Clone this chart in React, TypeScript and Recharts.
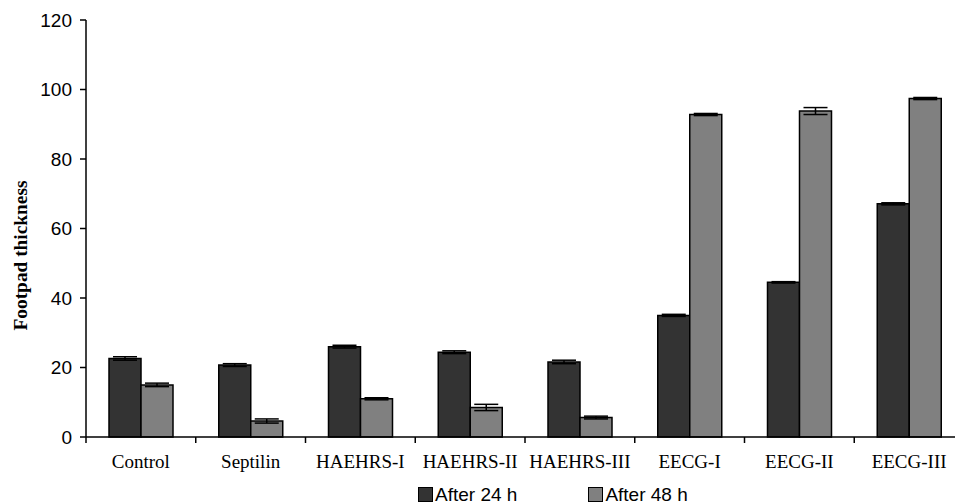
import { BarChart, Bar, XAxis, YAxis, ErrorBar } from "recharts";

const groups = [
  "Control",
  "Septilin",
  "HAEHRS-I",
  "HAEHRS-II",
  "HAEHRS-III",
  "EECG-I",
  "EECG-II",
  "EECG-III",
];
const after24 = [22.6, 20.7, 26.0, 24.4, 21.6, 35.0, 44.5, 67.1];
const after24Err = [0.5, 0.4, 0.4, 0.4, 0.5, 0.3, 0.2, 0.3];
const after48 = [15.0, 4.6, 11.0, 8.5, 5.6, 92.8, 93.8, 97.4];
const after48Err = [0.5, 0.6, 0.3, 0.9, 0.4, 0.3, 1.0, 0.3];
const yTicks = [0, 20, 40, 60, 80, 100, 120];

const seriesNames = ["After 24 h", "After 48 h"];
const seriesColors = ["#333333", "#808080"];

const data = groups.map((g, i) => ({
  name: g,
  a24: after24[i],
  a24e: after24Err[i],
  a48: after48[i],
  a48e: after48Err[i],
}));

const CHART_W = 969;
const CHART_H = 504;
const Y_AXIS_W = 86;
const MARGIN_R = 5;
const BAND = (CHART_W - Y_AXIS_W - MARGIN_R) / groups.length;

function CategoryTick(props: any) {
  const { x, y, payload } = props;
  const left = x - BAND / 2;
  return (
    <g>
      <line x1={left} x2={left} y1={y - 6} y2={y} stroke="#000" strokeWidth={1.5} />
      <text
        x={x}
        y={y}
        dy={25}
        textAnchor="middle"
        fontFamily="'Liberation Serif', 'Times New Roman', serif"
        fontSize={19}
        fill="#000"
      >
        {payload.value}
      </text>
    </g>
  );
}

function YLabel(props: any) {
  const vb = props.viewBox;
  const cx = 20;
  const cy = vb.y + vb.height / 2 + 27;
  return (
    <text
      x={cx}
      y={cy}
      transform={`rotate(-90 ${cx} ${cy})`}
      textAnchor="middle"
      dominantBaseline="central"
      fontFamily="'Liberation Serif', 'Times New Roman', serif"
      fontWeight="bold"
      fontSize={19}
      textLength={150}
      lengthAdjust="spacingAndGlyphs"
      fill="#000"
    >
      Footpad thickness
    </text>
  );
}

export default function App() {
  return (
    <div
      style={{
        position: "fixed",
        left: 0,
        top: 0,
        width: 955,
        height: 504,
        overflow: "hidden",
        background: "#fff",
      }}
    >
      <BarChart
        width={CHART_W}
        height={CHART_H}
        data={data}
        margin={{ top: 20, right: MARGIN_R, bottom: 27, left: 0 }}
        barCategoryGap={23}
        barGap={0}
      >
        <XAxis
          dataKey="name"
          interval={0}
          height={40}
          stroke="#000"
          strokeWidth={1.5}
          tickLine={{ stroke: "none" }}
          tickSize={6}
          tickMargin={0}
          tick={<CategoryTick />}
        />
        <YAxis
          width={Y_AXIS_W}
          domain={[0, 120]}
          ticks={yTicks}
          interval={0}
          stroke="#000"
          strokeWidth={1.5}
          tickSize={6}
          tickMargin={8}
          tick={{
            fill: "#000",
            fontSize: 19,
            fontFamily: "'Liberation Sans', Arial, sans-serif",
          }}
          label={<YLabel />}
        />
        <Bar
          dataKey="a24"
          fill={seriesColors[0]}
          stroke="#000"
          strokeWidth={1.5}
          isAnimationActive={false}
        >
          <ErrorBar dataKey="a24e" width={12} stroke="#000" strokeWidth={1.5} />
        </Bar>
        <Bar
          dataKey="a48"
          fill={seriesColors[1]}
          stroke="#000"
          strokeWidth={1.5}
          isAnimationActive={false}
        >
          <ErrorBar dataKey="a48e" width={12} stroke="#000" strokeWidth={1.5} />
        </Bar>
      </BarChart>
      <div
        style={{
          position: "absolute",
          left: 418,
          top: 485,
          display: "flex",
          gap: 71,
          fontFamily: "'Liberation Sans', Arial, sans-serif",
          fontSize: 19,
          lineHeight: "19px",
          color: "#000",
        }}
      >
        {seriesNames.map((n, i) => (
          <span key={n} style={{ display: "flex", alignItems: "center", gap: 2 }}>
            <span
              style={{
                display: "inline-block",
                width: 15,
                height: 15,
                background: seriesColors[i],
                border: "1px solid #000",
                boxSizing: "border-box",
              }}
            />
            {n}
          </span>
        ))}
      </div>
    </div>
  );
}
